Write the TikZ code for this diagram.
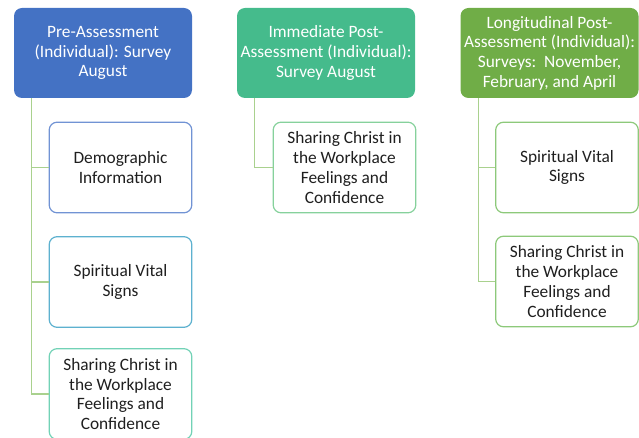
\documentclass[tikz,border=0pt]{standalone}
\usepackage{fontspec}
\setmainfont{Carlito}
\definecolor{hdblue}{HTML}{4472C4}
\definecolor{hdteal}{HTML}{45BB8C}
\definecolor{hdgreen}{HTML}{70AD47}
\definecolor{bdblue}{HTML}{7193D4}
\definecolor{bdsky}{HTML}{5DB1CF}
\definecolor{bdmint}{HTML}{72D2B6}
\definecolor{bdleaf}{HTML}{86D19C}
\definecolor{bdgreen}{HTML}{8DC97A}
\definecolor{linkgreen}{HTML}{A9D18E}
\definecolor{txtgray}{HTML}{1F1F1F}
\begin{document}
\begin{tikzpicture}[x=0.75pt, y=-0.75pt,
		every node/.style={font=\fontsize{13}{14.8}\selectfont, align=center},
		header/.style={fill=#1, rounded corners=6pt, text=white, minimum width=133.5pt, minimum height=67.5pt, inner sep=0pt},
		item/.style={draw=#1, line width=0.9pt, fill=white, rounded corners=6pt, text=txtgray, minimum width=107pt, minimum height=68pt, inner sep=0pt},
		link/.style={draw=linkgreen, line width=1.1pt}]

		\useasboundingbox (0,0) rectangle (639,438);

		% Define the nodes
		\node[header=hdblue] (pre) at (103,53) {Pre-Assessment\\(Individual): Survey\\August};
		\node[header=hdteal] (immediate) at (326,53) {Immediate Post-\\Assessment (Individual):\\Survey August};
		\node[header=hdgreen] (longitudinal) at (549.5,53) {Longitudinal Post-\\Assessment (Individual):\\Surveys:\ \ November,\\February, and April};

		\node[item=bdblue] (pre_demographic) at (120.5,167.5) {Demographic\\Information};
		\node[item=bdsky] (pre_vital) at (120.5,282) {Spiritual Vital\\Signs};
		\node[item=bdmint] (pre_sharing) at (120.5,394) {Sharing Christ in\\the Workplace\\Feelings and\\Confidence};
		\node[item=bdleaf] (immediate_sharing) at (344.5,167.5) {Sharing Christ in\\the Workplace\\Feelings and\\Confidence};
		\node[item=bdgreen] (longitudinal_vital) at (567,167.5) {Spiritual Vital\\Signs};
		\node[item=bdgreen] (longitudinal_sharing) at (567,281.5) {Sharing Christ in\\the Workplace\\Feelings and\\Confidence};

		% Define the edges
		\draw[link] ([xshift=13.5pt]pre.south west) |- (pre_demographic.west);
		\draw[link] ([xshift=13.5pt]pre.south west) |- (pre_vital.west);
		\draw[link] ([xshift=13.5pt]pre.south west) |- (pre_sharing.west);
		\draw[link] ([xshift=13.5pt]immediate.south west) |- (immediate_sharing.west);
		\draw[link] ([xshift=13.5pt]longitudinal.south west) |- (longitudinal_vital.west);
		\draw[link] ([xshift=13.5pt]longitudinal.south west) |- (longitudinal_sharing.west);

	\end{tikzpicture}
\end{document}
